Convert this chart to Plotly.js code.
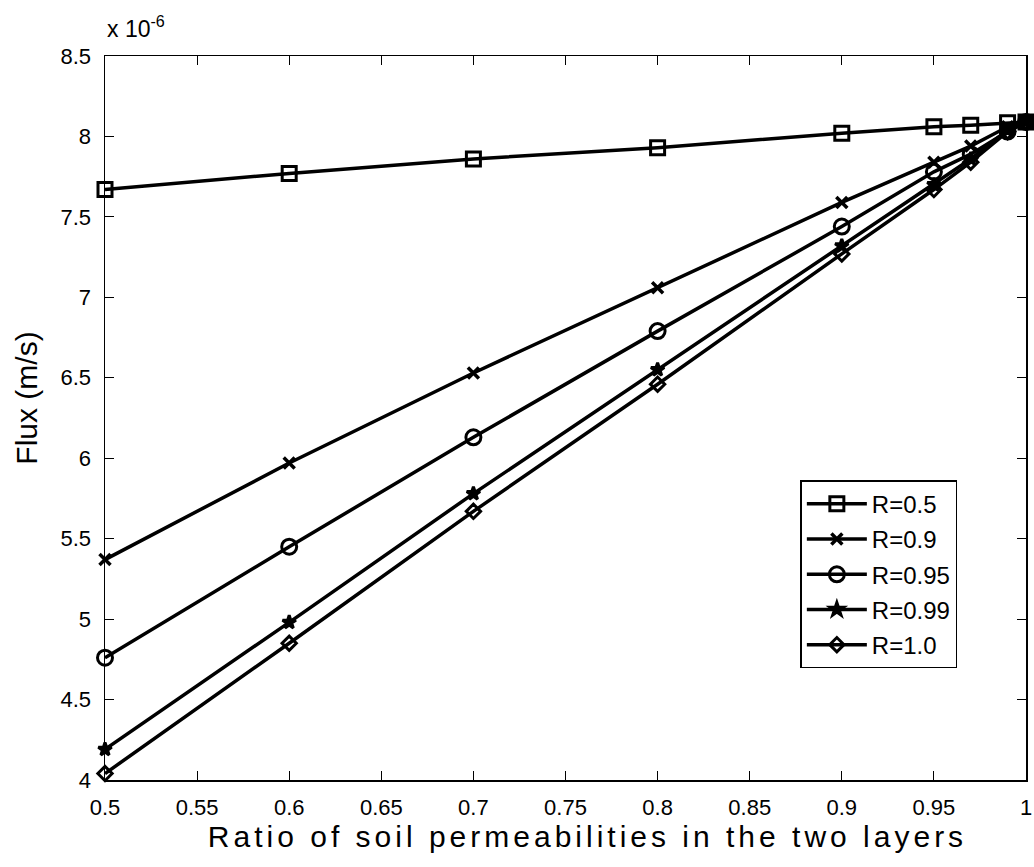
<!DOCTYPE html>
<html>
<head>
<meta charset="utf-8">
<script src="https://cdn.plot.ly/plotly-3.0.1.min.js"></script>
<style>html,body{margin:0;padding:0;background:#fff;}#chart{width:1034px;height:867px;}</style>
</head>
<body>
<div id="chart"></div>
<script>
const ratio = [0.5, 0.6, 0.7, 0.8, 0.9, 0.95, 0.97, 0.99, 1.0];
const fluxR050 = [7.67, 7.77, 7.86, 7.93, 8.02, 8.06, 8.07, 8.085, 8.09];
const fluxR090 = [5.37, 5.97, 6.53, 7.06, 7.59, 7.84, 7.94, 8.06, 8.09];
const fluxR095 = [4.76, 5.45, 6.13, 6.79, 7.44, 7.78, 7.89, 8.03, 8.09];
const fluxR099 = [4.19, 4.98, 5.78, 6.55, 7.32, 7.70, 7.86, 8.04, 8.09];
const fluxR100 = [4.04, 4.85, 5.67, 6.46, 7.27, 7.67, 7.84, 8.03, 8.09];
const seriesNames = ["R=0.5", "R=0.9", "R=0.95", "R=0.99", "R=1.0"];
const xTickVals = [0.5, 0.55, 0.6, 0.65, 0.7, 0.75, 0.8, 0.85, 0.9, 0.95, 1];
const yTickVals = [4, 4.5, 5, 5.5, 6, 6.5, 7, 7.5, 8, 8.5];

const seriesData = [fluxR050, fluxR090, fluxR095, fluxR099, fluxR100];
const symbols = ["square-open", "x-thin-open", "circle-open", "star", "diamond-open"];
const sizes = [14, 11, 15, 10, 11];

const traces = seriesData.map((ys, i) => ({
  x: ratio,
  y: ys,
  name: seriesNames[i],
  legendgroup: "g" + i,
  type: "scatter",
  mode: "lines+markers",
  cliponaxis: false,
  line: {color: "black", width: 3.5},
  marker: {
    symbol: symbols[i],
    size: sizes[i],
    color: "black",
    line: {color: "black", width: i === 1 ? 3.5 : 3}
  }
}));

const font = {family: "Liberation Sans, Arial, sans-serif", color: "black"};

const layout = {
  width: 1034,
  height: 867,
  paper_bgcolor: "white",
  plot_bgcolor: "white",
  margin: {l: 105, r: 8, t: 56, b: 87},
  font: Object.assign({size: 22}, font),
  showlegend: true,
  legend: {
    x: 0.755, y: 0.414, xanchor: "left", yanchor: "top",
    bordercolor: "black", borderwidth: 1.5, bgcolor: "white",
    font: Object.assign({size: 24}, font),
    tracegroupgap: 1,
    itemwidth: 60
  },
  xaxis: {
    range: [0.5, 1],
    tickvals: xTickVals,
    ticktext: xTickVals.map(v => String(v)),
    ticks: "inside", ticklen: 9, tickwidth: 1, tickcolor: "black",
    ticklabelstandoff: 7,
    showline: true, linecolor: "black", linewidth: 1.5, mirror: "ticks",
    showgrid: false, zeroline: false,
    tickfont: Object.assign({size: 22}, font),
    title: {text: "Ratio of soil permeabilities in the two layers", font: Object.assign({size: 30}, font), standoff: 6}
  },
  yaxis: {
    range: [4, 8.5],
    tickvals: yTickVals,
    ticktext: yTickVals.map(v => String(v)),
    ticks: "inside", ticklen: 9, tickwidth: 1, tickcolor: "black",
    ticklabelstandoff: 8,
    showline: true, linecolor: "black", linewidth: 1.5, mirror: "ticks",
    showgrid: false, zeroline: false,
    tickfont: Object.assign({size: 22}, font),
    title: {text: "Flux (m/s)", font: Object.assign({size: 30}, font), standoff: 14}
  },
  annotations: [{
    text: "x 10<sup>-6</sup>",
    xref: "paper", yref: "paper",
    x: 0, y: 1.0, xanchor: "left", yanchor: "bottom", yshift: 12,
    showarrow: false,
    font: Object.assign({size: 23}, font)
  }]
};

Plotly.newPlot("chart", traces, layout, {displayModeBar: false, staticPlot: true}).then(gd => {
  const xt = gd.querySelector(".xtitle");
  if (xt) {
    xt.setAttribute("letter-spacing", "4px");
    xt.setAttribute("transform", "translate(22,0)");
  }
  const yt = gd.querySelector(".ytitle");
  if (yt) {
    const t = yt.getAttribute("transform") || "";
    yt.setAttribute("transform", "translate(0,-20) " + t);
  }
});
</script>
</body>
</html>
